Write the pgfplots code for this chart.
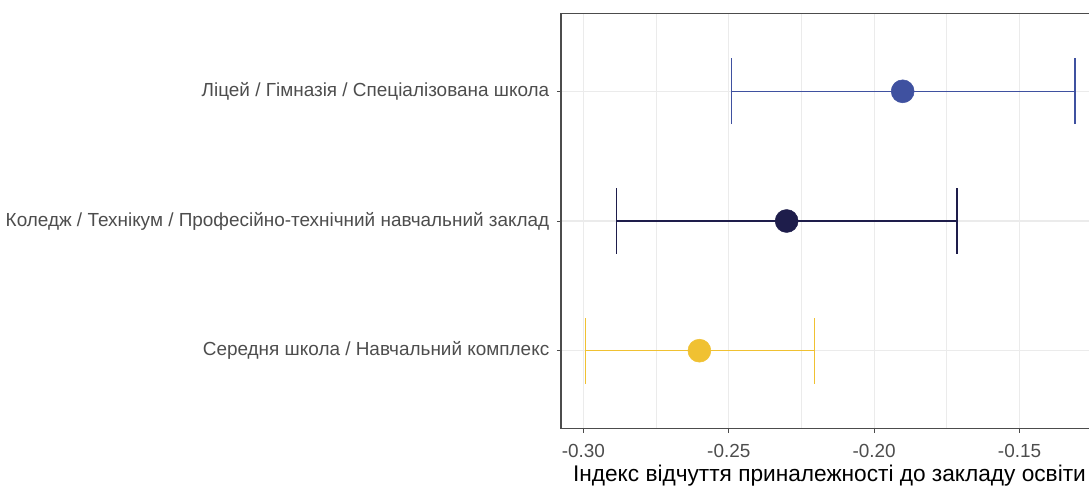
\documentclass[border=0pt]{standalone}
\usepackage{pgfplots}
\pgfplotsset{compat=1.18}
\usepackage{fontspec}
\setmainfont{Liberation Sans}

\definecolor{cLic}{RGB}{63,81,160}
\definecolor{cKol}{RGB}{30,29,75}
\definecolor{cSer}{RGB}{240,193,50}
\definecolor{gridc}{RGB}{235,235,235}
\definecolor{txtc}{RGB}{77,77,77}

\begin{document}
\begin{tikzpicture}
    \begin{axis}[
        scale only axis,
        width=402.8pt, height=311.25pt,
        xmin=-0.3077, xmax=-0.123,
        ymin=0.4, ymax=3.6,
        xtick={-0.30,-0.25,-0.20,-0.15},
        xticklabels={-0.30,-0.25,-0.20,-0.15},
        minor xtick={-0.275,-0.225,-0.175,-0.125},
        ytick={1,2,3},
        yticklabels={Середня школа / Навчальний комплекс,
                     Коледж / Технікум / Професійно-технічний навчальний заклад,
                     Ліцей / Гімназія / Спеціалізована школа},
        xtick pos=bottom, ytick pos=left,
        tick align=outside,
        major tick length=3pt,
        minor tick length=0pt,
        tick style={black!70, line width=0.6pt},
        grid=both,
        major grid style={gridc, line width=0.8pt},
        minor grid style={gridc, line width=0.6pt},
        axis line style={black!70, line width=0.8pt},
        ticklabel style={font=\fontsize{14.2}{16}\selectfont, text=txtc},
        xticklabel shift=5pt,
        yticklabel style={xshift=-2.25pt},
        xlabel={Індекс відчуття приналежності до закладу освіти},
        xlabel style={font=\fontsize{17}{20}\selectfont, text=black,
            at={(axis description cs:0.5,0)}, anchor=base, yshift=-39.4pt},
        unbounded coords=jump,
        clip=false,
    ]
    % довірчі інтервали: нижній вус, лінія, верхній вус
    \addplot[cLic, line width=1.1pt] coordinates {
        (-0.2490,2.7465) (-0.2490,3.2535) (nan,nan)
        (-0.2490,3) (-0.1310,3) (nan,nan)
        (-0.1310,2.7465) (-0.1310,3.2535)};
    \addplot[cKol, line width=1.1pt] coordinates {
        (-0.2887,1.7465) (-0.2887,2.2535) (nan,nan)
        (-0.2887,2) (-0.1715,2) (nan,nan)
        (-0.1715,1.7465) (-0.1715,2.2535)};
    \addplot[cSer, line width=1.1pt] coordinates {
        (-0.2992,0.7465) (-0.2992,1.2535) (nan,nan)
        (-0.2992,1) (-0.2206,1) (nan,nan)
        (-0.2206,0.7465) (-0.2206,1.2535)};
    % середні значення
    \addplot[only marks, mark=*, mark size=8.6pt, color=cLic] coordinates {(-0.1902,3)};
    \addplot[only marks, mark=*, mark size=8.6pt, color=cKol] coordinates {(-0.2301,2)};
    \addplot[only marks, mark=*, mark size=8.6pt, color=cSer] coordinates {(-0.2601,1)};
    \end{axis}
    \pgfresetboundingbox
    \path (-420.75pt,-43.125pt) rectangle (396pt,321.375pt);
\end{tikzpicture}
\end{document}
